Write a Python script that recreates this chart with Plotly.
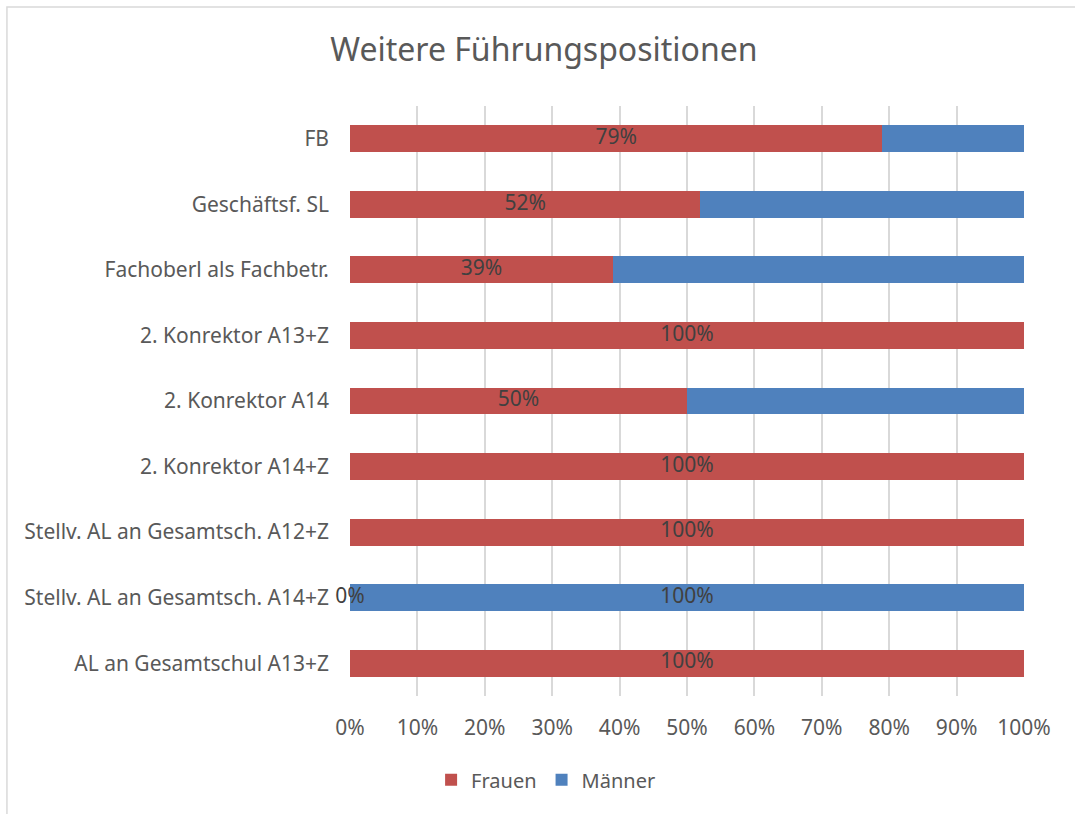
import plotly.graph_objects as go

categories = ["FB", "Geschäftsf. SL", "Fachoberl als Fachbetr.", "2. Konrektor A13+Z",
              "2. Konrektor A14", "2. Konrektor A14+Z", "Stellv. AL an Gesamtsch. A12+Z",
              "Stellv. AL an Gesamtsch. A14+Z", "AL an Gesamtschul A13+Z"]
frauen = [79, 52, 39, 100, 50, 100, 100, 0, 100]
maenner = [21, 48, 61, 0, 50, 0, 0, 100, 0]
show_frauen_label = [True] * 9
show_maenner_label = [False, False, False, False, False, False, False, True, False]
x_ticks = [0, 10, 20, 30, 40, 50, 60, 70, 80, 90, 100]
x_ticktext = [f"{t}%" for t in x_ticks]

RED = "#C0504D"
BLUE = "#4F81BD"
FONT = "Noto Sans"
GRAY = "#595959"

fig = go.Figure()
fig.add_trace(go.Bar(y=categories, x=frauen, name="Frauen", orientation="h",
                     marker=dict(color=RED, line=dict(width=0)), hoverinfo="x+y"))
fig.add_trace(go.Bar(y=categories, x=maenner, name="Männer", orientation="h",
                     marker=dict(color=BLUE, line=dict(width=0)), hoverinfo="x+y"))

# data labels
lx, ly, lt = [], [], []
for c, f, m, sf, sm in zip(categories, frauen, maenner, show_frauen_label, show_maenner_label):
    if sf:
        lx.append(f / 2); ly.append(c); lt.append(f"{f}%")
    if sm:
        lx.append(f + m / 2); ly.append(c); lt.append(f"{m}%")
fig.add_trace(go.Scatter(x=lx, y=ly, mode="text", text=lt, textposition="middle center",
                         textfont=dict(family=FONT, size=21, color="#404040"),
                         showlegend=False, hoverinfo="skip", cliponaxis=False))

fig.update_layout(
    width=1075, height=814,
    barmode="stack", bargap=0.59,
    paper_bgcolor="white", plot_bgcolor="white",
    margin=dict(l=350, r=51, t=106, b=118, autoexpand=False),
    font=dict(family=FONT, size=20, color=GRAY),
    title=dict(text="Weitere Führungspositionen", x=0.506, xref="container", xanchor="center",
               y=0.939, yref="container", yanchor="middle",
               font=dict(family=FONT, size=32, color=GRAY)),
    legend=dict(orientation="h", x=0.508, xref="container", xanchor="center",
                y=0.042, yref="container", yanchor="middle",
                font=dict(family=FONT, size=20, color=GRAY), traceorder="normal"),
    xaxis=dict(range=[0, 100], tickmode="array", tickvals=x_ticks, ticktext=x_ticktext,
               tickfont=dict(family=FONT, size=21, color=GRAY),
               showgrid=True, gridcolor="#D9D9D9", gridwidth=1.5,
               zeroline=False, showline=False, ticklabelstandoff=17, fixedrange=True),
    yaxis=dict(categoryorder="array", categoryarray=categories, autorange="reversed",
               tickfont=dict(family=FONT, size=21, color=GRAY),
               showgrid=False, zeroline=False, showline=False, ticklabelstandoff=20,
               fixedrange=True),
    shapes=[dict(type="rect", xref="paper", yref="paper", x0=-0.509, x1=1.2, y0=-0.3, y1=1.168,
                 line=dict(color="#D9D9D9", width=1.5), fillcolor="rgba(0,0,0,0)", layer="below")],
)
fig.write_html("out.html", config={"displayModeBar": False},
               post_script="document.body.style.margin='0';")
